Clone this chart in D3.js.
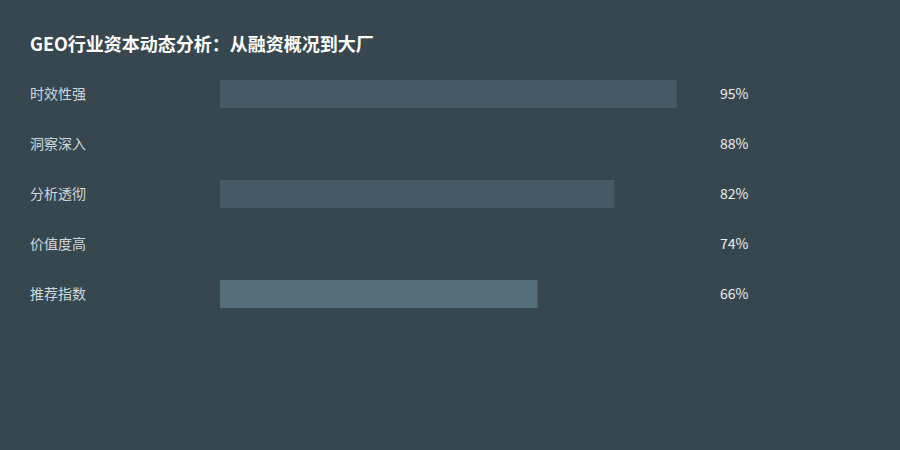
<html>
<head>
<meta charset="utf-8">
<script src="https://d3js.org/d3.v7.min.js"></script>
<style>
body { margin: 0; background: #37474f; }
svg { display: block; font-family: "Noto Sans CJK SC", "Noto Sans", sans-serif; }
</style>
</head>
<body>
<svg width="900" height="450"></svg>
<script>
// chart data
const title = "GEO行业资本动态分析：从融资概况到大厂";
const categories = ["时效性强", "洞察深入", "分析透彻", "价值度高", "推荐指数"];
const values = [95, 88, 82, 74, 66];
const barColors = ["#455a64", "#37474f", "#455a64", "#37474f", "#546e7a"];

const svg = d3.select("svg");

svg.append("rect")
  .attr("width", 900).attr("height", 450)
  .attr("fill", "#37474f");

svg.append("text")
  .attr("x", 30).attr("y", 51)
  .attr("fill", "#ffffff")
  .style("font-size", "18px")
  .style("font-weight", "bold")
  .text(title);

// scales
var x = d3.scaleLinear().domain([0, 100]).range([220, 701]);
var y = d3.scaleBand().domain(categories).range([69, 319]).paddingInner(0.44).paddingOuter(0.22);

const rows = svg.append("g")
  .selectAll("g")
  .data(categories)
  .enter()
  .append("g");

rows.append("rect")
  .attr("x", x(0))
  .attr("y", d => y(d))
  .attr("width", (d, i) => x(values[i]) - x(0))
  .attr("height", y.bandwidth())
  .attr("fill", (d, i) => barColors[i]);

rows.append("text")
  .attr("x", 30)
  .attr("y", d => y(d) + y.bandwidth() / 2)
  .attr("dy", "0.35em")
  .attr("fill", "#cfd8dc")
  .style("font-size", "14px")
  .text(d => d);

rows.append("text")
  .attr("x", 720)
  .attr("y", d => y(d) + y.bandwidth() / 2)
  .attr("dy", "0.35em")
  .attr("fill", "#eceff1")
  .style("font-size", "14px")
  .text((d, i) => values[i] + "%");
</script>
</body>
</html>
